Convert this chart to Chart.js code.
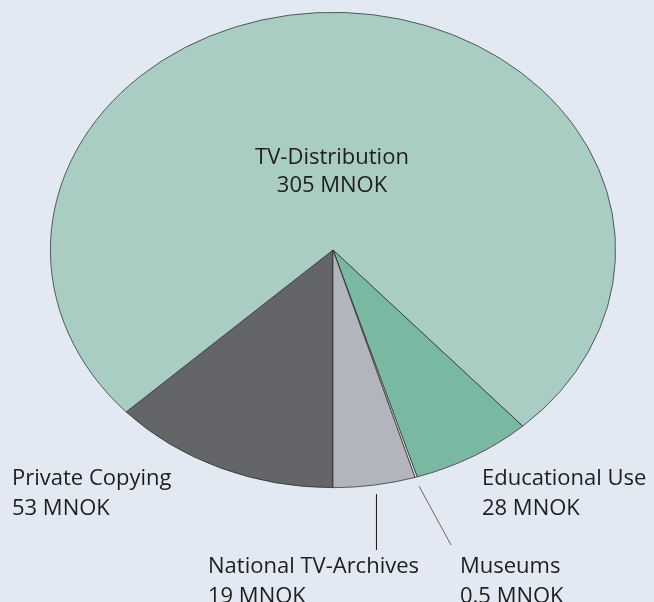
<!DOCTYPE html>
<html>
<head>
<meta charset="utf-8">
<script src="https://cdn.jsdelivr.net/npm/chart.js@4.4.1/dist/chart.umd.min.js"></script>
<style>
  html, body { margin: 0; padding: 0; background: #e3e9f2; }
  #wrap { width: 654px; height: 602px; position: relative; }
</style>
</head>
<body>
<div id="wrap"><canvas id="chartjs"></canvas></div>
<script>
// values in MNOK, clockwise starting from the bottom of the pie
const categories = ['Private Copying', 'TV-Distribution', 'Educational Use', 'Museums', 'National TV-Archives'];
const values = [53, 305, 28, 0.5, 19];
const valueLabels = ['53 MNOK', '305 MNOK', '28 MNOK', '0.5 MNOK', '19 MNOK'];
const colors = ['#646569', '#aacdc3', '#79b9a2', '#eeeeee', '#b2b5bb'];

// where the text goes (left x / centre x for inside label, line-1 middle y)
const labelPos = [
  { x: 12, y: 479, align: 'left' },
  { x: 332, y: 158, align: 'center', inside: true },
  { x: 482, y: 479, align: 'left' },
  { x: 460, y: 567, align: 'left', leader: { x: 451, y: 545, color: '#666' } },
  { x: 208, y: 567, align: 'left', leader: { x: null, y: 550, color: '#111' } }
];

const squashY = 238 / 283; // pie is drawn as an ellipse
const pieCenterY = 250;

const ellipsePlugin = {
  id: 'ellipse',
  beforeDatasetsDraw(chart) {
    const arc = chart.getDatasetMeta(0).data[0];
    const ctx = chart.ctx;
    ctx.save();
    ctx.translate(0, pieCenterY);
    ctx.scale(1, squashY);
    ctx.translate(0, -arc.y);
  },
  afterDatasetsDraw(chart) {
    chart.ctx.restore();
  }
};

const labelPlugin = {
  id: 'labels',
  afterDraw(chart) {
    const ctx = chart.ctx;
    const arcs = chart.getDatasetMeta(0).data;
    ctx.save();
    ctx.font = '22px "Open Sans"';
    ctx.fillStyle = '#1e1e1e';
    ctx.textBaseline = 'middle';
    arcs.forEach((arc, i) => {
      const p = labelPos[i];
      const gap = p.inside ? 28 : 30;
      ctx.textAlign = p.align;
      ctx.fillText(categories[i], p.x, p.y);
      ctx.fillText(valueLabels[i], p.x, p.y + gap);
      if (p.leader) {
        const mid = (arc.startAngle + arc.endAngle) / 2;
        const r = arc.outerRadius;
        const ex = arc.x + Math.cos(mid) * r;
        const ey = pieCenterY + Math.sin(mid) * r * squashY;
        const sx = p.leader.x === null ? ex + 2 : ex + 3;
        const sy = ey + 9;
        const tx = p.leader.x === null ? sx : p.leader.x;
        ctx.strokeStyle = p.leader.color;
        ctx.lineWidth = 1;
        ctx.beginPath();
        ctx.moveTo(sx, sy);
        ctx.lineTo(tx, p.leader.y);
        ctx.stroke();
      }
    });
    ctx.restore();
  }
};

new Chart(document.querySelector('#chartjs'), {
  type: 'pie',
  data: {
    labels: categories,
    datasets: [{
      data: values,
      backgroundColor: colors,
      borderColor: '#2b2b2b',
      borderWidth: 0.8,
      hoverOffset: 0
    }]
  },
  options: {
    responsive: true,
    maintainAspectRatio: false,
    animation: false,
    rotation: 180,
    layout: { padding: { left: 50, right: 38, top: 0, bottom: 36 } },
    plugins: {
      legend: { display: false },
      tooltip: { enabled: false }
    }
  },
  plugins: [ellipsePlugin, labelPlugin]
});
</script>
</body>
</html>
